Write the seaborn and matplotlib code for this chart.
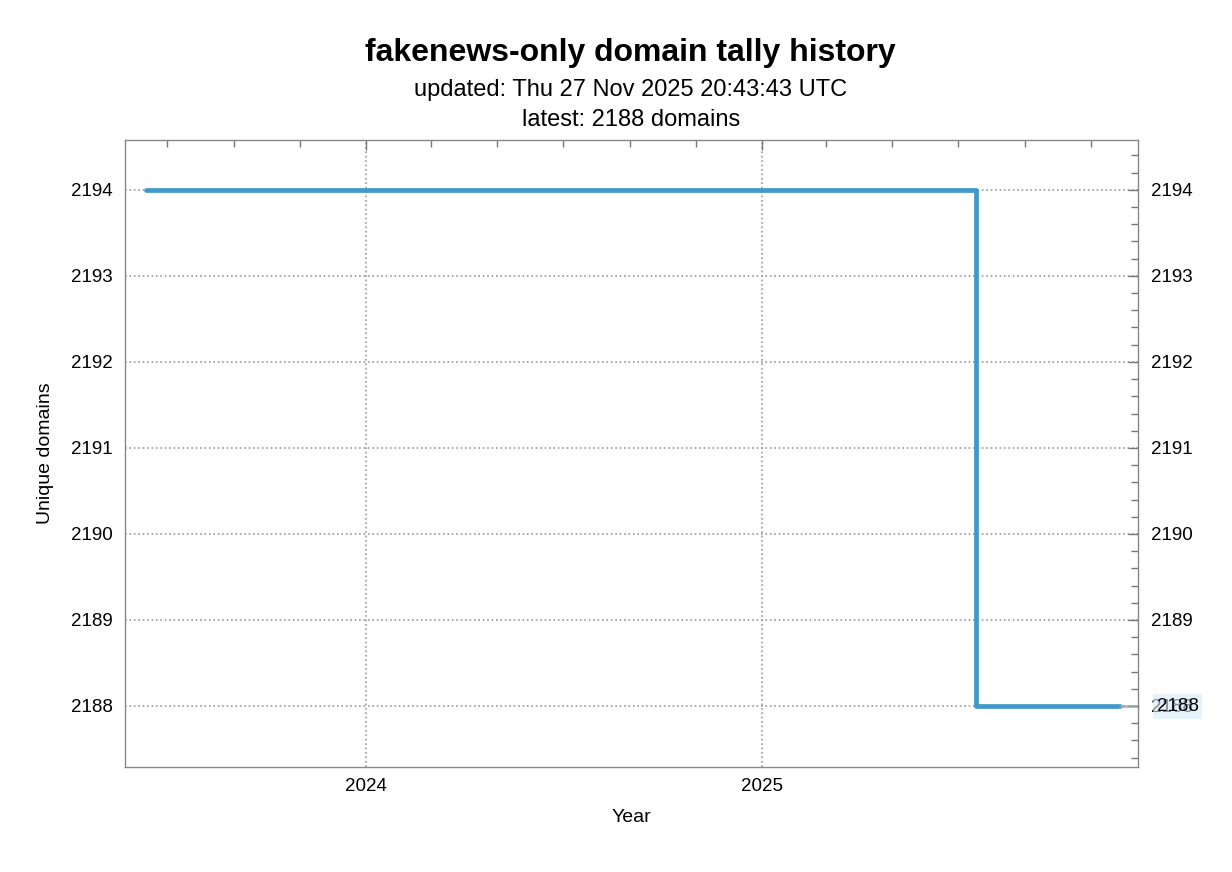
import pandas as pd
import numpy as np
import seaborn as sns
import matplotlib.pyplot as plt
import matplotlib.dates as mdates
from matplotlib.ticker import MultipleLocator

# data
dates = ['2023-06-11', '2025-07-17', '2025-11-27']
tally = [2194, 2188, 2188]
latest = 2188

df = pd.DataFrame({'date': pd.to_datetime(dates), 'domains': tally})

sns.set_theme(style='white')
plt.rcParams['font.family'] = ['Liberation Sans', 'DejaVu Sans']
plt.rcParams['text.color'] = 'black'
plt.rcParams['axes.labelcolor'] = 'black'

fig = plt.figure(figsize=(12.32, 8.72), dpi=100)
ax = fig.add_axes([125 / 1232, 1 - 767 / 872, (1138 - 125) / 1232, (767 - 140) / 872])

sns.lineplot(data=df, x='date', y='domains', ax=ax, color='#4199cb',
             linewidth=3.4, drawstyle='steps-post')

# faint tail to the right edge + latest label sitting under the 2188 tick label
ax.plot([df['date'].iloc[-1], pd.Timestamp('2025-12-14')], [latest, latest],
        color='#9aa7b0', lw=2, alpha=0.8, clip_on=False)
ax.annotate(str(latest), xy=(1.0, latest), xycoords=('axes fraction', 'data'),
            xytext=(13.5, -0.5), textcoords='offset points', va='center', ha='left',
            fontsize=13.5, color='black', zorder=1,
            bbox=dict(boxstyle='square,pad=0.2', fc='#d6ebfa', ec='none', alpha=0.6))

ax.set_xlim(pd.Timestamp('2023-05-23'), pd.Timestamp('2025-12-14'))
ax.set_ylim(2187.29, 2194.58)

ax.xaxis.set_major_locator(mdates.YearLocator())
ax.xaxis.set_major_formatter(mdates.DateFormatter('%Y'))
ax.xaxis.set_minor_locator(mdates.MonthLocator(bymonth=[1, 3, 5, 7, 9, 11]))
ax.yaxis.set_major_locator(MultipleLocator(1))
ax.yaxis.set_minor_locator(MultipleLocator(0.2))

ax.tick_params(axis='both', which='both', direction='in', top=True, right=True,
               labelright=True, colors='#777777', labelcolor='black', labelsize=13.5)
ax.tick_params(which='major', length=7, width=1)
ax.tick_params(which='minor', length=5, width=1)
ax.tick_params(axis='y', pad=9)
ax.tick_params(axis='x', pad=8)

ax.grid(True, which='major', linestyle=':', color='#999999', linewidth=1.2)
for s in ax.spines.values():
    s.set_color('#888888')
    s.set_linewidth(1)

ax.set_xlabel('Year', fontsize=14, labelpad=10)
ax.set_ylabel('Unique domains', fontsize=14, labelpad=12)

fig.text(0.512, 1 - 53 / 872, 'fakenews-only domain tally history', ha='center',
         va='center', fontsize=23, fontweight='bold')
fig.text(0.512, 1 - 90 / 872, 'updated: Thu 27 Nov 2025 20:43:43 UTC', ha='center',
         va='center', fontsize=17)
fig.text(0.512, 1 - 120 / 872, 'latest: 2188 domains', ha='center', va='center',
         fontsize=17)

fig.savefig('out.png', dpi=100)
